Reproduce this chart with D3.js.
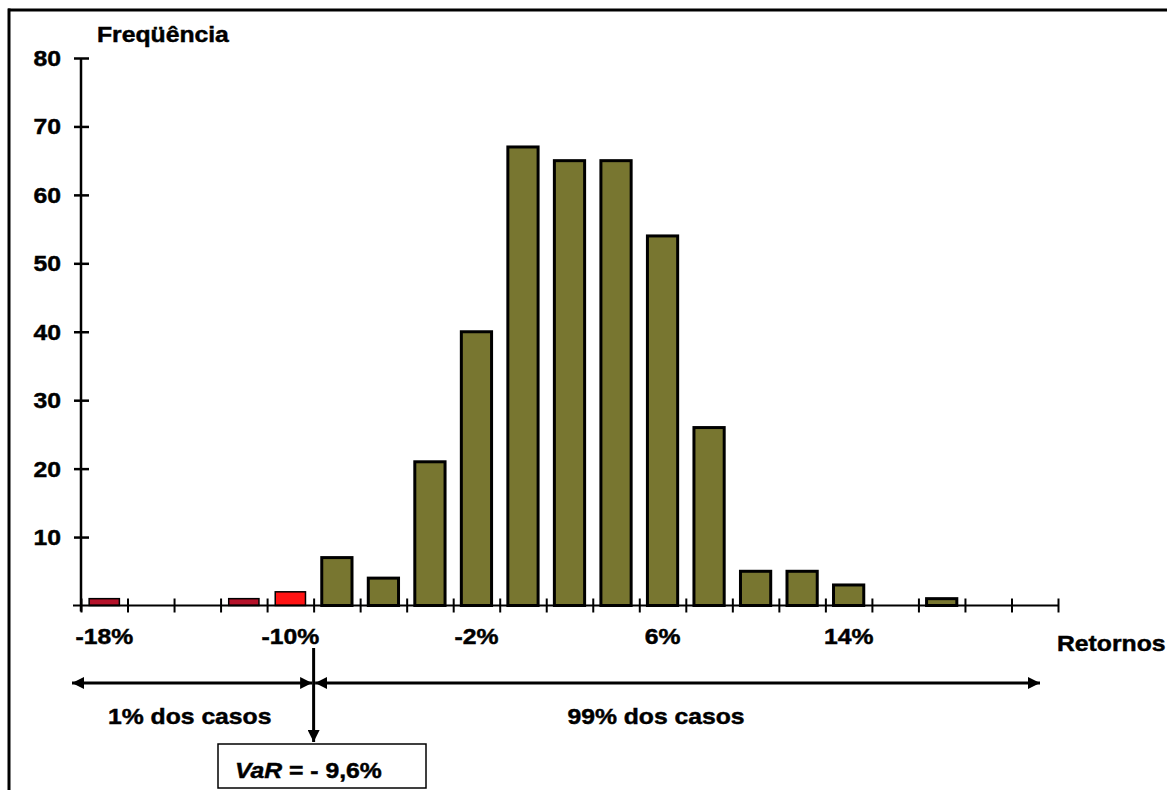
<!DOCTYPE html>
<html><head><meta charset="utf-8">
<script src="https://cdn.jsdelivr.net/npm/d3@7"></script>
<style>
html,body{margin:0;padding:0;background:#fff;}
svg{display:block;}
text{font-family:"Liberation Sans",Arial,sans-serif;font-weight:bold;fill:#000;stroke:#000;stroke-width:0.45px;}
</style></head><body>
<svg id="c" width="1167" height="790"></svg>
<script>
// Data
const binCenters = [-18,-16,-14,-12,-10,-8,-6,-4,-2,0,2,4,6,8,10,12,14,16,18,20,22];
const frequencies = [1,0,0,1,2,7,4,21,40,67,65,65,54,26,5,5,3,0,1,0,0];
const barGroup = ["tail","none","none","tail","var","body","body","body","body","body","body","body","body","body","body","body","body","none","body","none","none"];
const yTicks = [10,20,30,40,50,60,70,80];
const xLabelValues = [-18,-10,-2,6,14];
const xLabelText = ["-18%","-10%","-2%","6%","14%"];
const yTitle = "Freqüência";
const xTitle = "Retornos";
const varText = "9,6%";
const varEdge = -9;   // bin boundary where the VaR marker is drawn
const leftText = "1% dos casos";
const rightText = "99% dos casos";

const colors = {tail:"#b5122a", var:"#ff1414", body:"#787630", none:"none"};
const SX = 1.15; // horizontal stretch of the lettering
const FS = 21.5;

const svg = d3.select("#c");
const x = d3.scaleLinear().domain([-19,23]).range([81,1058]);
const y = d3.scaleLinear().domain([0,80]).range([605.5,58]);
const step = x(1)-x(-1);
const bw = step*0.65;

// frame
svg.append("line").attr("x1",8).attr("x2",1167).attr("y1",10).attr("y2",10).attr("stroke","#000").attr("stroke-width",3);
svg.append("line").attr("x1",9).attr("x2",9).attr("y1",8.5).attr("y2",790).attr("stroke","#000").attr("stroke-width",3);

// bars
const bars = binCenters.map((c,i)=>({c, f:frequencies[i], g:barGroup[i]})).filter(d=>d.f>0);
svg.append("g").selectAll("rect").data(bars).join("rect")
  .attr("x",d=>x(d.c)-bw/2).attr("width",bw)
  .attr("y",d=>y(d.f)).attr("height",d=>y(0)-y(d.f))
  .attr("fill",d=>colors[d.g])
  .attr("stroke","#000").attr("stroke-width",d=>d.g==="body"?3:1.5);

// x axis
const edges = d3.range(-19,24,2);
const xAxis = svg.append("g").attr("transform",`translate(0,${y(0)})`)
  .call(d3.axisBottom(x).tickValues(edges).tickFormat("").tickSizeOuter(0));
xAxis.select(".domain").attr("d",`M73,0H1058`).attr("stroke","#000").attr("stroke-width",2);
xAxis.selectAll(".tick line").attr("y1",-7).attr("y2",7).attr("stroke","#000").attr("stroke-width",2);

// y axis
const yAxis = svg.append("g").attr("transform",`translate(${x(-19)},0)`)
  .call(d3.axisLeft(y).tickValues(yTicks).tickFormat("").tickSizeOuter(0));
yAxis.select(".domain").attr("d",`M0,${y(80)}V${y(0)+6}`).attr("stroke","#000").attr("stroke-width",2.5);
yAxis.selectAll(".tick line").attr("x1",-7).attr("x2",8).attr("stroke","#000").attr("stroke-width",2.5);

function txt(str,tx,ty,anchor){
  return svg.append("text").attr("transform",`translate(${tx},${ty}) scale(${SX},1)`)
    .attr("text-anchor",anchor||"start").style("font-size",FS+"px").text(str);
}
// y tick labels
yTicks.forEach(v=>txt(String(v),61,y(v)+8,"end"));
// x labels
xLabelValues.forEach((v,i)=>txt(xLabelText[i],x(v),644,"middle"));
txt(yTitle,97,42,"start");
txt(xTitle,1057,651,"start");

// arrows
const defs = svg.append("defs");
defs.append("marker").attr("id","ah").attr("viewBox","0 0 10 10").attr("refX",10).attr("refY",5)
  .attr("markerWidth",4.2).attr("markerHeight",4).attr("markerUnits","strokeWidth").attr("orient","auto-start-reverse")
  .append("path").attr("d","M0,0L10,5L0,10Z").attr("fill","#000");
const vx = x(varEdge);
const ay = 683;
svg.append("line").attr("x1",vx-1.5).attr("x2",72).attr("y1",ay).attr("y2",ay).attr("stroke","#000").attr("stroke-width",3)
  .attr("marker-start","url(#ah)").attr("marker-end","url(#ah)");
svg.append("line").attr("x1",vx+1.5).attr("x2",1040).attr("y1",ay).attr("y2",ay).attr("stroke","#000").attr("stroke-width",3)
  .attr("marker-start","url(#ah)").attr("marker-end","url(#ah)");
svg.append("line").attr("x1",vx).attr("x2",vx).attr("y1",648).attr("y2",742).attr("stroke","#000").attr("stroke-width",3).attr("marker-end","url(#ah)");

txt(leftText,108,724,"start");
txt(rightText,656,724,"middle");

// VaR box
svg.append("rect").attr("x",218).attr("y",744).attr("width",208).attr("height",44).attr("fill","#fff").attr("stroke","#000").attr("stroke-width",1.5);
const vt = svg.append("text").attr("transform",`translate(235,778) scale(${SX},1)`).style("font-size",FS+"px");
vt.append("tspan").style("font-style","italic").text("VaR");
vt.append("tspan").text(" = - " + varText);
</script>
</body></html>
